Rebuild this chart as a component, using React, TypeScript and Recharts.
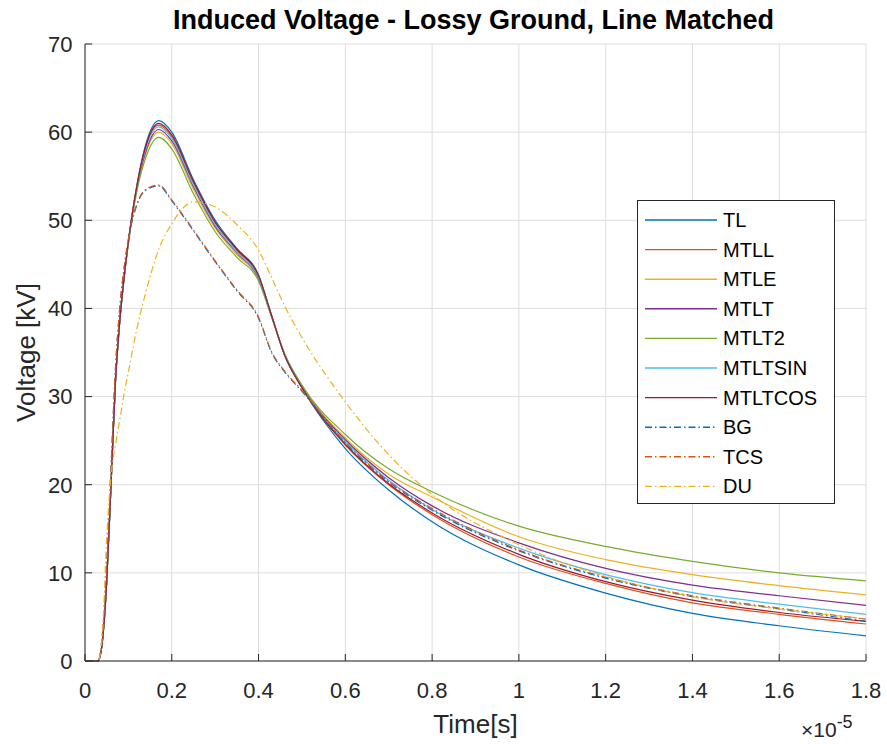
import React from "react";
import {
  LineChart,
  Line,
  XAxis,
  YAxis,
  CartesianGrid,
} from "recharts";

// time in units of 1e-5 s
const times = [
  0, 0.03, 0.04, 0.05, 0.06, 0.07, 0.08, 0.09, 0.1, 0.12, 0.14, 0.17, 0.2,
  0.25, 0.3, 0.35, 0.4, 0.43, 0.46, 0.5, 0.6, 0.7, 0.8, 1.0, 1.2, 1.4, 1.6, 1.8,
];

const tl = [0, 0, 2.2, 9, 20, 31.5, 38.5, 43.5, 47.6, 54.1, 58.6, 61.3, 60.0, 54.6, 50.0, 46.8, 43.8, 39.2, 34.7, 31.0, 24.1, 19.4, 15.8, 10.9, 7.7, 5.4, 4.0, 2.85];
const mtll = [0, 0, 2.2, 9, 20, 31.5, 38.5, 43.5, 47.6, 54.0, 58.3, 60.8, 59.5, 54.2, 49.7, 46.6, 43.6, 39.2, 34.7, 31.0, 24.5, 20.0, 16.6, 11.8, 8.8, 6.6, 5.3, 4.2];
const mtle = [0, 0, 2.2, 9, 20, 31.5, 38.5, 43.4, 47.5, 53.7, 57.6, 60.0, 58.7, 53.5, 49.1, 46.1, 43.3, 39.1, 34.8, 31.2, 25.3, 21.2, 18.6, 14.1, 11.5, 9.8, 8.55, 7.5];
const mtlt = [0, 0, 2.2, 9, 20, 31.5, 38.5, 43.4, 47.5, 53.8, 57.8, 60.3, 59.0, 53.8, 49.3, 46.3, 43.4, 39.1, 34.8, 31.1, 25.1, 20.8, 17.6, 13.4, 10.5, 8.6, 7.4, 6.3];
const mtlt2 = [0, 0, 2.2, 9, 20, 31.5, 38.4, 43.3, 47.3, 53.4, 57.1, 59.4, 58.1, 53.0, 48.7, 45.8, 43.1, 39.0, 34.9, 31.3, 25.7, 21.8, 19.2, 15.3, 13.0, 11.3, 10.0, 9.1];
const mtltsin = [0, 0, 2.2, 9, 20, 31.5, 38.5, 43.5, 47.6, 53.9, 58.1, 60.6, 59.3, 54.0, 49.5, 46.4, 43.5, 39.2, 34.7, 31.0, 24.9, 20.5, 17.2, 12.8, 9.8, 7.75, 6.45, 5.3];
const mtltcos = [0, 0, 2.2, 9, 20, 31.5, 38.5, 43.5, 47.6, 54.0, 58.4, 61.0, 59.7, 54.4, 49.8, 46.7, 43.7, 39.2, 34.7, 31.0, 24.6, 20.1, 16.8, 12.1, 9.0, 6.9, 5.5, 4.5];
const bg = [0, 0, 3, 11, 22, 33, 40, 44.5, 47.8, 51.8, 53.4, 53.9, 52.2, 48.8, 45.3, 42.0, 38.9, 35.0, 32.8, 30.6, 24.7, 20.3, 17.1, 12.5, 9.4, 7.3, 5.9, 4.5];
const tcs = [0, 0, 3, 11, 22, 33, 40, 44.6, 47.9, 51.9, 53.5, 54.0, 52.3, 48.9, 45.4, 42.1, 39.0, 35.1, 32.9, 30.7, 24.8, 20.4, 17.3, 12.6, 9.5, 7.4, 6.0, 4.75];
const du = [0, 0, 3, 14, 21, 24.5, 27.3, 30.3, 32.8, 37.8, 41.8, 46.7, 49.6, 52.1, 51.5, 49.5, 46.6, 43.5, 40.3, 36.7, 29.4, 23.4, 18.9, 13.2, 9.6, 7.3, 5.9, 4.8];

const xTicks = [0, 0.2, 0.4, 0.6, 0.8, 1, 1.2, 1.4, 1.6, 1.8];
const yTicks = [0, 10, 20, 30, 40, 50, 60, 70];

const DASHDOT = "7 3 1.5 3";

const series = [
  { key: "TL", values: tl, color: "#0072BD", dash: undefined },
  { key: "MTLL", values: mtll, color: "#D95319", dash: undefined },
  { key: "MTLE", values: mtle, color: "#EDB120", dash: undefined },
  { key: "MTLT", values: mtlt, color: "#7E2F8E", dash: undefined },
  { key: "MTLT2", values: mtlt2, color: "#77AC30", dash: undefined },
  { key: "MTLTSIN", values: mtltsin, color: "#4DBEEE", dash: undefined },
  { key: "MTLTCOS", values: mtltcos, color: "#A2142F", dash: undefined },
  { key: "BG", values: bg, color: "#0072BD", dash: DASHDOT },
  { key: "TCS", values: tcs, color: "#D95319", dash: DASHDOT },
  { key: "DU", values: du, color: "#EDB120", dash: DASHDOT },
];

const data = times.map((t, i) => {
  const row: Record<string, number> = { t };
  series.forEach((s) => {
    row[s.key] = s.values[i];
  });
  return row;
});

const FONT = "'Liberation Sans', Arial, Helvetica, sans-serif";
const AXIS = "#262626";

function LegendBox() {
  const rowH = 29.6;
  return (
    <svg width={198} height={304} style={{ display: "block" }}>
      <rect x={0.5} y={0.5} width={197} height={303} fill="#fff" stroke={AXIS} strokeWidth={1} />
      {series.map((s, i) => {
        const y = 20 + i * rowH;
        return (
          <g key={s.key}>
            <line x1={8} x2={80} y1={y} y2={y} stroke={s.color} strokeWidth={1.4} strokeDasharray={s.dash} />
            <text x={86} y={y} dominantBaseline="central" fontSize={20} fontFamily={FONT} fill="#000">
              {s.key}
            </text>
          </g>
        );
      })}
    </svg>
  );
}

export default function App() {
  return (
    <div style={{ position: "absolute", left: 0, top: 0, width: 887, height: 744, background: "#fff", fontFamily: FONT }}>
      <div style={{ position: "absolute", left: 83, width: 781, top: 5, textAlign: "center", fontWeight: "bold", fontSize: 27, color: "#000", whiteSpace: "nowrap" }}>
        Induced Voltage - Lossy Ground, Line Matched
      </div>
      <LineChart
        width={887}
        height={744}
        data={data}
        margin={{ top: 44, right: 21, bottom: 23, left: 25 }}
      >
        <CartesianGrid stroke="#dedede" strokeWidth={1} />
        <XAxis
          dataKey="t"
          type="number"
          domain={[0, 1.8]}
          ticks={xTicks}
          tickFormatter={(v: number) => String(v)}
          allowDataOverflow
          height={60}
          tickSize={-7}
          tickMargin={28}
          stroke={AXIS}
          tick={{ fill: "#262626", fontSize: 22, fontFamily: FONT }}
          label={{ value: "Time[s]", position: "insideBottom", offset: -12, fill: "#262626", fontSize: 26, fontFamily: FONT }}
        />
        <XAxis
          xAxisId="top"
          dataKey="t"
          type="number"
          domain={[0, 1.8]}
          ticks={xTicks}
          orientation="top"
          height={0}
          tickSize={-7}
          tick={false}
          stroke={AXIS}
        />
        <YAxis
          type="number"
          domain={[0, 70]}
          ticks={yTicks}
          width={60}
          tickSize={-7}
          tickMargin={19.5}
          stroke={AXIS}
          tick={{ fill: "#262626", fontSize: 22, fontFamily: FONT }}
          label={{ value: "Voltage [kV]", angle: -90, position: "insideLeft", offset: 1, fill: "#262626", fontSize: 26, fontFamily: FONT, style: { textAnchor: "middle" } }}
        />
        <YAxis
          yAxisId="right"
          type="number"
          domain={[0, 70]}
          ticks={yTicks}
          orientation="right"
          width={0}
          tickSize={-7}
          tick={false}
          stroke={AXIS}
        />
        {series.map((s) => (
          <Line
            key={s.key}
            dataKey={s.key}
            type="monotone"
            stroke={s.color}
            strokeWidth={1.2}
            strokeDasharray={s.dash}
            dot={false}
            isAnimationActive={false}
          />
        ))}
      </LineChart>
      <div style={{ position: "absolute", left: 801, top: 713, fontSize: 21, color: "#262626", whiteSpace: "nowrap" }}>
        ×10<sup style={{ fontSize: 18, position: "relative", top: -1 }}>-5</sup>
      </div>
      <div style={{ position: "absolute", left: 637, top: 200 }}>
        <LegendBox />
      </div>
    </div>
  );
}
